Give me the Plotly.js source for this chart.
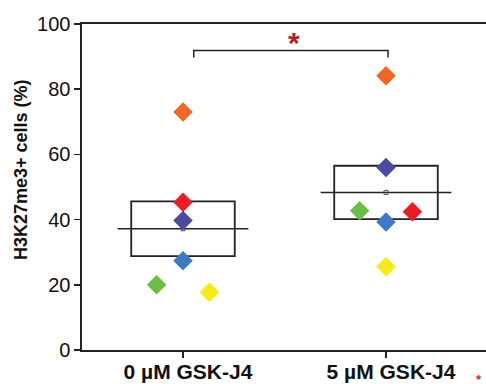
<!DOCTYPE html>
<html>
<head>
<meta charset="utf-8">
<script src="https://cdn.plot.ly/plotly-3.0.1.min.js"></script>
<style>html,body{margin:0;padding:0;background:#fff;}#chart{width:486px;height:384px;}</style>
</head>
<body>
<div id="chart"></div>
<script>
// ---- data ----
const categories = ["0 µM GSK-J4", "5 µM GSK-J4"];
const orange = [73.0, 84.1];
const red    = [45.3, 42.4];
const navy   = [39.7, 56.0];
const blue   = [27.4, 39.3];
const green  = [20.0, 42.7];
const yellow = [17.7, 25.5];
const yTicks = [0, 20, 40, 60, 80, 100];

// ---- styling / placement (not data) ----
const series = [
  {vals: orange, color: "#F26522", shift: [0, 0]},
  {vals: red,    color: "#ED1C24", shift: [0, 0.13]},
  {vals: navy,   color: "#4A4AA0", shift: [0, 0]},
  {vals: blue,   color: "#3D7BC6", shift: [0, 0]},
  {vals: green,  color: "#6BBE45", shift: [-0.13, -0.13]},
  {vals: yellow, color: "#F6EB14", shift: [0.13, 0]}
];
const idx = categories.map((c, i) => i);

// mean and standard error per group, computed from the points
const groups = idx.map(i => series.map(s => s.vals[i]));
const means = groups.map(g => g.reduce((a, b) => a + b, 0) / g.length);
const sems = groups.map((g, k) => {
  const m = means[k];
  const v = g.reduce((a, b) => a + (b - m) * (b - m), 0) / (g.length - 1);
  return Math.sqrt(v) / Math.sqrt(g.length);
});

const ink = "#222";
const traces = [];

// box = mean ± SE
traces.push({
  type: "bar", x: idx, y: sems.map(s => 2 * s), base: means.map((m, k) => m - sems[k]),
  width: 0.51, marker: {color: "rgba(0,0,0,0)", line: {color: ink, width: 1.8}},
  hoverinfo: "skip", showlegend: false
});
// mean lines
const mx = [], my = [];
idx.forEach(i => { mx.push(i - 0.322, i + 0.322, null); my.push(means[i], means[i], null); });
traces.push({type: "scatter", mode: "lines", x: mx, y: my, line: {color: ink, width: 1.6},
  hoverinfo: "skip", showlegend: false});
// mean markers
traces.push({type: "scatter", mode: "markers", x: idx, y: means,
  marker: {symbol: "square-open", size: 4, color: "#555", line: {width: 1}}, showlegend: false});
// points
series.forEach(s => {
  traces.push({
    type: "scatter", mode: "markers",
    x: idx.map(i => i + s.shift[i]), y: s.vals,
    marker: {symbol: "diamond", size: 15, color: s.color, line: {width: 0}},
    showlegend: false
  });
});

const font = "Liberation Sans, Arial, Helvetica, sans-serif";
const layout = {
  width: 486, height: 384,
  margin: {l: 82, r: 0, t: 24, b: 34, pad: 0},
  paper_bgcolor: "#fff", plot_bgcolor: "#fff",
  showlegend: false,
  barmode: "overlay",
  xaxis: {
    range: [-0.4975, 1.4926], tickvals: idx, ticktext: categories,
    showgrid: false, zeroline: false, showline: true, mirror: true,
    linecolor: ink, linewidth: 1.6, ticks: "outside", ticklen: 6, tickwidth: 1.6, tickcolor: ink,
    ticklabelshift: 5, ticklabelstandoff: -4,
    tickfont: {family: font, size: 21, color: "#111", weight: "bold"}
  },
  yaxis: {
    range: [0, 100], tickvals: yTicks, ticktext: yTicks.map(String),
    showgrid: false, zeroline: false, showline: true,
    linecolor: ink, linewidth: 1.6, ticks: "outside", ticklen: 6, tickwidth: 1.6, tickcolor: ink,
    tickfont: {family: font, size: 20, color: "#111"}
  },
  shapes: [{
    type: "path", xref: "x", yref: "y",
    path: "M 0.053 89.7 L 0.053 91.9 L 1.01 91.9 L 1.01 89.7",
    line: {color: ink, width: 1.5}
  }],
  annotations: [
    {text: "H3K27me3+ cells (%)", xref: "paper", yref: "paper", x: -0.151, y: 0.555,
     textangle: -90, showarrow: false, xanchor: "center", yanchor: "middle",
     font: {family: font, size: 18, color: "#111", weight: "bold"}},
    {text: "*", xref: "x", yref: "y", x: 0.545, y: 94.4, showarrow: false,
     xanchor: "center", yanchor: "middle",
     font: {family: font, size: 30, color: "#B5202C", weight: "bold"}},
    {text: "*", xref: "paper", yref: "paper", x: 0.983, y: -0.09, showarrow: false,
     xanchor: "center", yanchor: "middle",
     font: {family: font, size: 13, color: "#E8202A", weight: "bold"}}
  ]
};

Plotly.newPlot("chart", traces, layout, {displayModeBar: false, staticPlot: true});
</script>
</body>
</html>
